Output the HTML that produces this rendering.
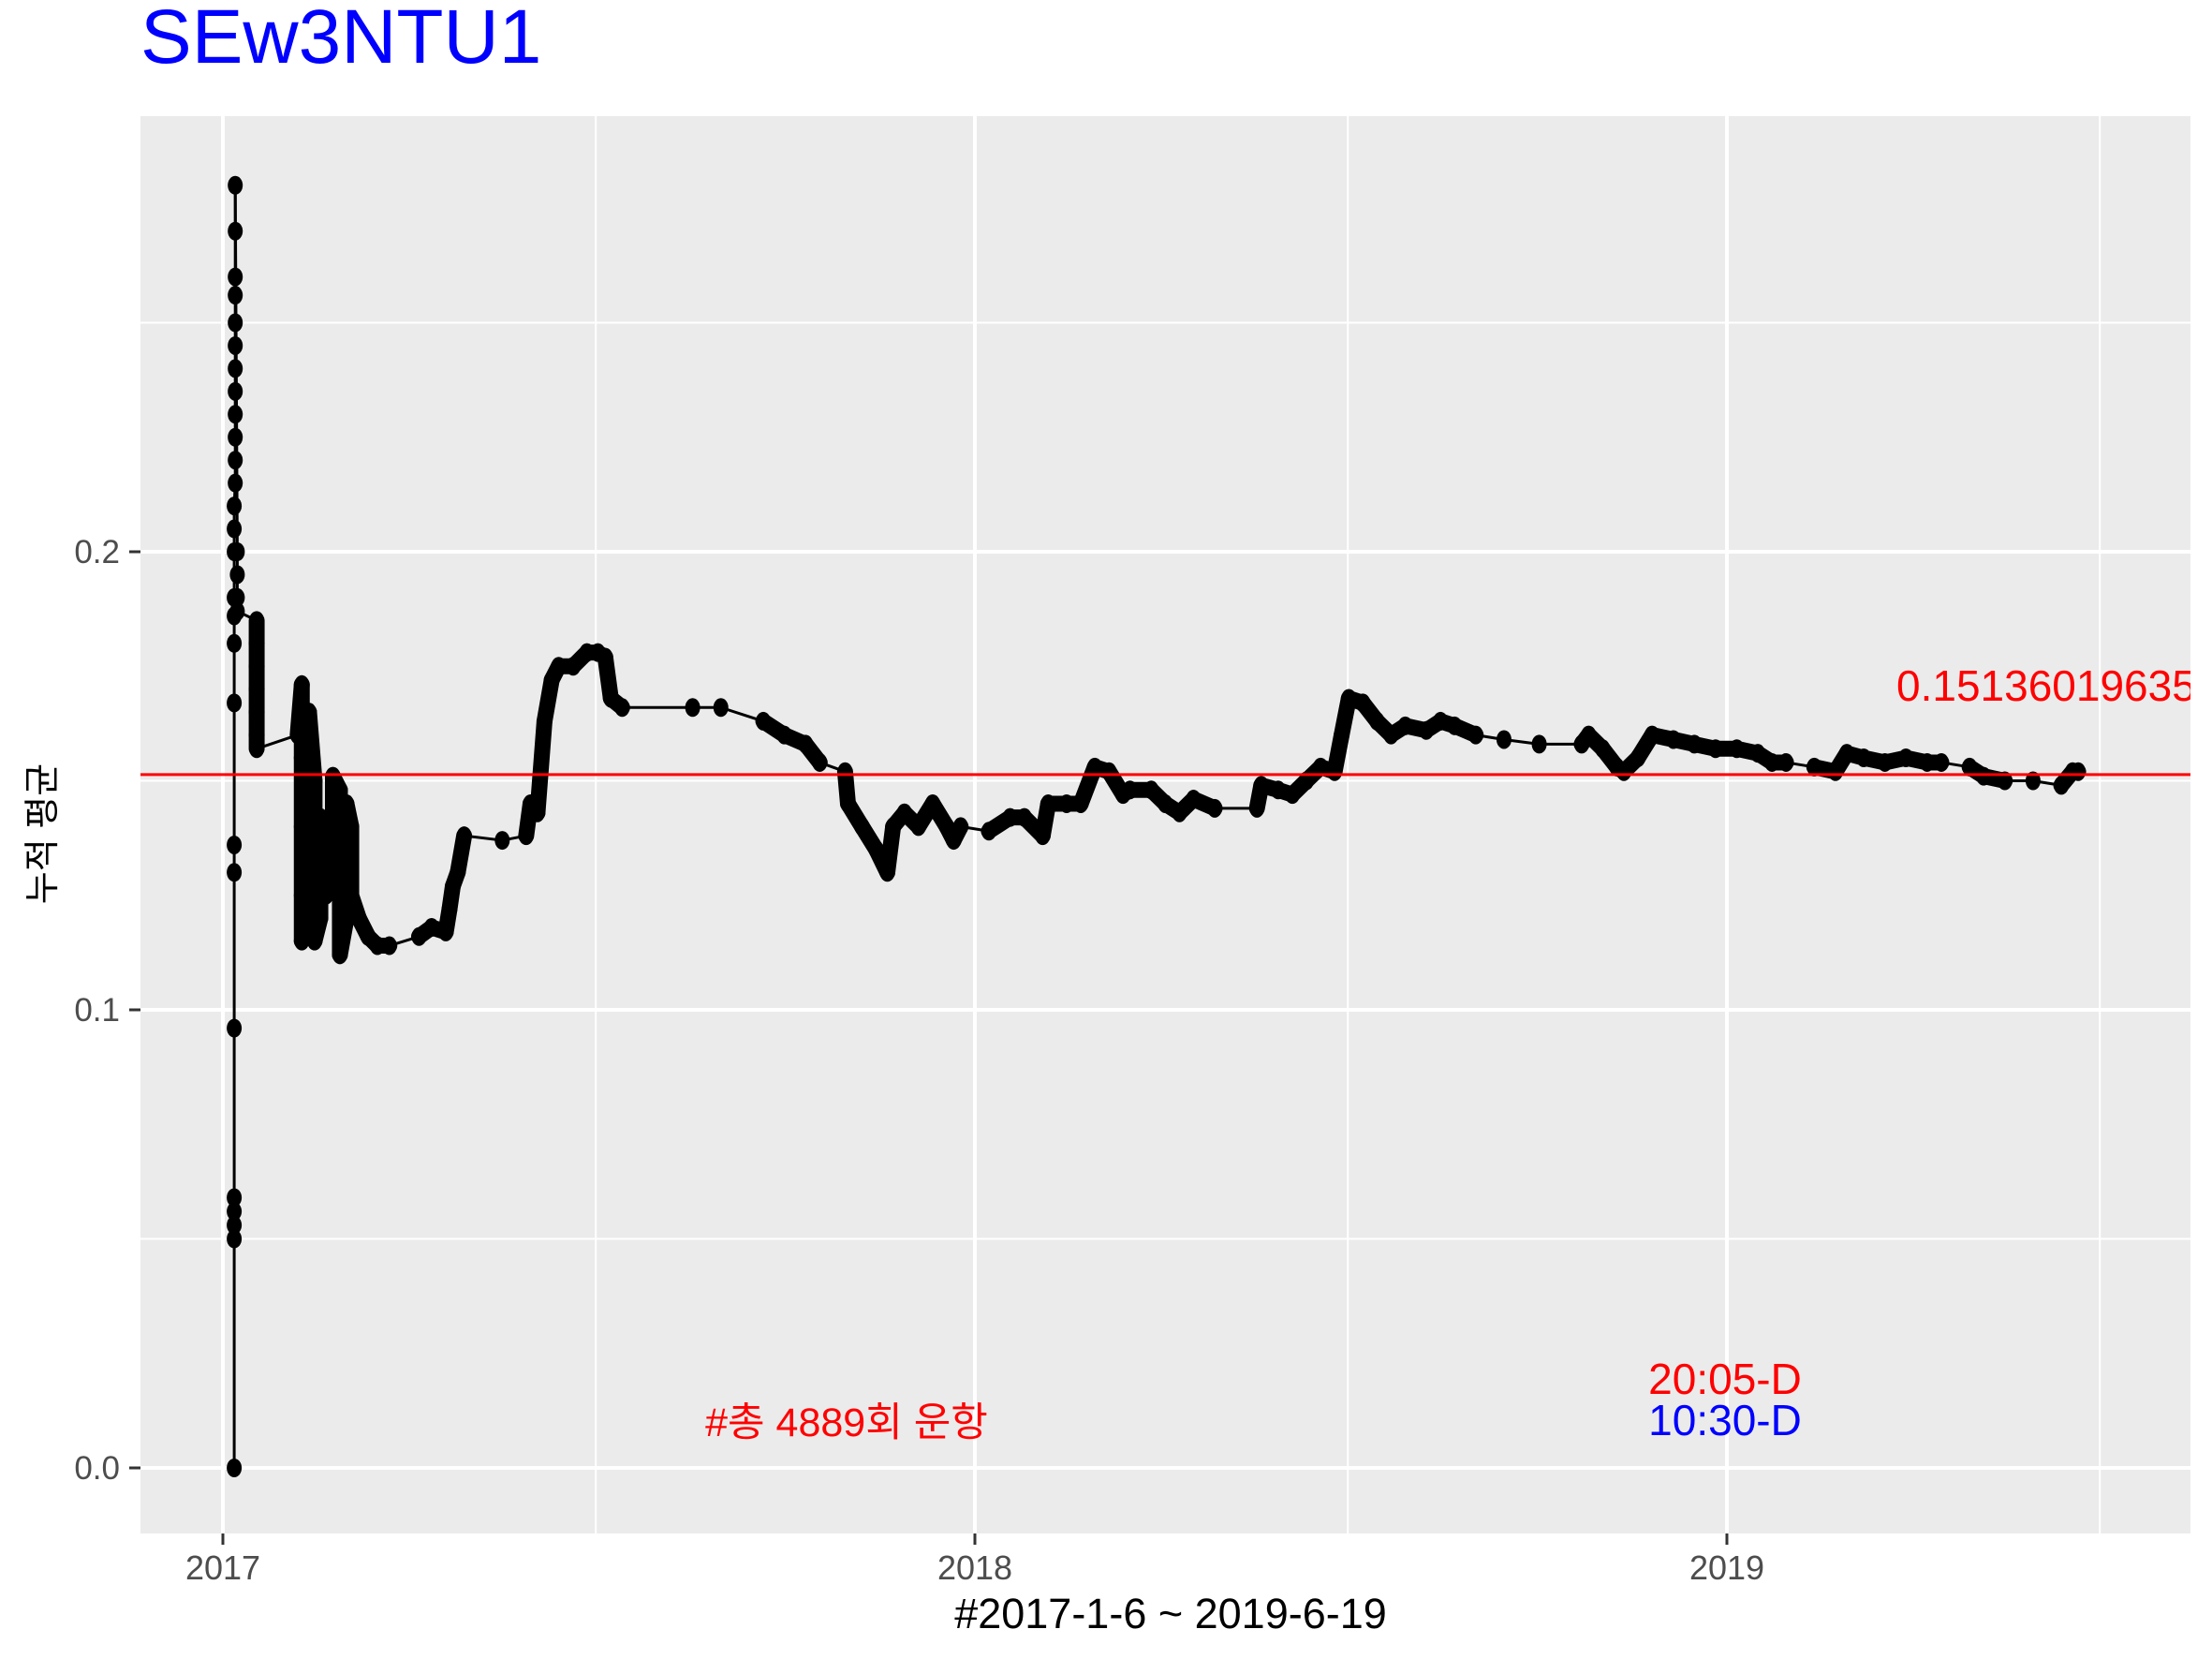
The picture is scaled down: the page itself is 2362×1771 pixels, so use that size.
<!DOCTYPE html>
<html><head><meta charset="utf-8">
<style>
html,body{margin:0;padding:0;background:#fff;}
svg{display:block;font-family:"Liberation Sans","Noto Sans CJK KR",sans-serif;}
</style></head>
<body>
<svg id="chart" width="2362" height="1771" viewBox="0 0 2362 1771" xmlns="http://www.w3.org/2000/svg">
<defs><clipPath id="pclip"><rect x="150" y="124" width="2189" height="1513"/></clipPath></defs>
<rect x="150" y="124" width="2189" height="1513" fill="#ebebeb"/>
<g id="grid"></g>
<g id="series" clip-path="url(#pclip)"></g>
<line id="meanline" x1="150" x2="2339" stroke="#ff0000" stroke-width="3"/>
<g clip-path="url(#pclip)"><text x="2025" y="748" fill="#ff0000" font-size="46">0.15136019635</text></g>
<text x="904" y="1533" fill="#ff0000" font-size="43" text-anchor="middle">#총 4889회 운항</text>
<text x="1842" y="1488" fill="#ff0000" font-size="46" text-anchor="middle">20:05-D</text>
<text x="1842" y="1532" fill="#0000ff" font-size="46" text-anchor="middle">10:30-D</text>
<g id="axes"></g>
<text x="150" y="67" fill="#0000ff" font-size="82">SEw3NTU1</text>
<text x="1250" y="1738" fill="#000" font-size="45" text-anchor="middle">#2017-1-6 ~ 2019-6-19</text>
<text transform="translate(58,890) rotate(-90)" fill="#000" font-size="38" text-anchor="middle">누적 평균</text>
</svg>
<script>
const yTicks=[0,0.1,0.2];
const yTickLabels=["0.0","0.1","0.2"];
const yMinor=[0.05,0.15,0.25];
const xTicks=[0,365,730];
const xTickLabels=["2017","2018","2019"];
const xMinor=[181,546,911];
const meanValue=0.15136019635;
const days=[5.5,5.5,5.5,5.5,5.5,5.5,5.5,5.5,5.5,5.5,5.5,5.5,5.5,5.5,5.5,6,6,6,6,6,6,6,6,6,6,6,6,7,7,7,7,
16.4,16.4,16.4,16.4,16.4,16.4,16.4,36.3,38.3,38.3,38.3,38.3,38.3,38.3,41.8,41.8,41.8,41.8,41.8,44.5,44.5,44.5,47.3,47.3,47.3,50,50,50,53.4,53.4,53.4,56.8,56.8,56.8,60,60,60,62.3,62.3,66,70.5,75,80.8,95.2,101.3,108.2,110,111.6,114,117.1,135.6,147.2,149.3,152.7,156.1,159.6,163,170,176.7,182,185.6,188.3,193.8,
228,241.7,262.3,272.5,282.8,289.7,302,303.4,310.2,317.1,322.5,325.3,330.8,337.6,344.5,351.3,354.7,358.1,371.8,382.1,389,397.9,400.6,409.5,416.4,423.2,430.1,436.9,440.3,450.6,457.4,464.3,471.1,481.4,501.9,504,512.2,519.1,525.9,532.8,539.6,543,546.5,553.3,560.2,567,573.9,584.1,591,597.8,608.1,621.8,638.9,659.5,662.9,669.7,676.6,680,686.8,693.7,704,714.2,724.5,734.8,745,751.9,758.7,772.4,782.7,788.2,796.4,806.7,816.9,827.2,834.1,847.8,854.6,864.9,878.6,892.3,897.8,900.5];
const values=[0,0.05,0.053,0.056,0.059,0.096,0.13,0.136,0.167,0.18,0.186,0.19,0.2,0.205,0.21,0.215,0.22,0.225,0.23,0.235,0.24,0.245,0.25,0.256,0.26,0.27,0.28,0.2,0.195,0.19,0.187,
0.185,0.18,0.175,0.17,0.165,0.16,0.157,0.16,0.171,0.165,0.155,0.14,0.125,0.115,0.118,0.13,0.145,0.16,0.165,0.15,0.13,0.115,0.12,0.135,0.142,0.14,0.13,0.125,0.13,0.141,0.151,0.148,0.13,0.112,0.12,0.14,0.145,0.14,0.125,0.12,0.116,0.114,0.114,0.116,0.118,0.117,0.122,0.127,0.13,0.138,0.137,0.138,0.145,0.143,0.163,0.172,0.175,0.175,0.178,0.178,0.177,0.168,0.166,
0.166,0.166,0.163,0.16,0.158,0.154,0.152,0.145,0.14,0.135,0.13,0.14,0.143,0.14,0.145,0.14,0.137,0.14,0.139,0.142,0.142,0.138,0.145,0.145,0.145,0.153,0.152,0.147,0.148,0.148,0.145,0.143,0.146,0.144,0.144,0.149,0.148,0.147,0.15,0.153,0.152,0.16,0.168,0.167,0.163,0.16,0.162,0.161,0.163,0.162,0.16,0.159,0.158,0.158,0.16,0.157,0.153,0.152,0.155,0.16,0.159,0.158,0.157,0.157,0.156,0.154,0.154,0.153,0.152,0.156,0.155,0.154,0.155,0.154,0.154,0.153,0.151,0.15,0.15,0.149,0.152,0.152];

const NS="http://www.w3.org/2000/svg";
function X(d){return 238+d*803/365;}
function Y(v){return 1567-v*4890;}
function mk(tag,attrs,parent){const e=document.createElementNS(NS,tag);for(const k in attrs)e.setAttribute(k,attrs[k]);parent.appendChild(e);return e;}
const grid=document.getElementById('grid');
yMinor.forEach(v=>{const l=mk('line',{x1:150,x2:2339,y1:Y(v),y2:Y(v),stroke:'#fff','stroke-width':2},grid);

});
xMinor.forEach(d=>{const l=mk('line',{x1:X(d),x2:X(d),y1:124,y2:1637,stroke:'#fff','stroke-width':2},grid);

});
yTicks.forEach(v=>{const l=mk('line',{x1:150,x2:2339,y1:Y(v),y2:Y(v),stroke:'#fff','stroke-width':4},grid);

});
xTicks.forEach(d=>{const l=mk('line',{x1:X(d),x2:X(d),y1:124,y2:1637,stroke:'#fff','stroke-width':4},grid);

});
const axes=document.getElementById('axes');
yTicks.forEach((v,i)=>{
 const t=mk('line',{x1:138,x2:150,y1:Y(v),y2:Y(v),stroke:'#333','stroke-width':3},axes);
 
 
 const tx=mk('text',{x:128,y:Y(v)+12,'font-size':35,fill:'#4d4d4d','text-anchor':'end'},axes);
 tx.textContent=yTickLabels[i];
 
 
});
xTicks.forEach((d,i)=>{
 const t=mk('line',{x1:X(d),x2:X(d),y1:1637,y2:1649,stroke:'#333','stroke-width':3},axes);
 
 
 const tx=mk('text',{x:X(d),y:1686,'font-size':36,fill:'#4d4d4d','text-anchor':'middle'},axes);
 tx.textContent=xTickLabels[i];
 
 
});
document.getElementById('meanline').setAttribute('y1',Y(meanValue));
document.getElementById('meanline').setAttribute('y2',Y(meanValue));
const s=document.getElementById('series');
for(let i=1;i<days.length;i++){
 const x1=X(days[i-1]),x2=X(days[i]),y1=Y(values[i-1]),y2=Y(values[i]);
 const dense=Math.abs(x2-x1)<24;
 const l=mk('line',{x1:x1,y1:y1,x2:x2,y2:y2,stroke:'#000','stroke-width':dense&&i>31?17:3,'stroke-linecap':'round'},s);
 
 
}
for(let i=0;i<days.length;i++){
 const c=mk('ellipse',{cx:X(days[i]),cy:Y(values[i]),rx:8,ry:10,fill:'#000'},s);
 
 
}
</script>
</body></html>
